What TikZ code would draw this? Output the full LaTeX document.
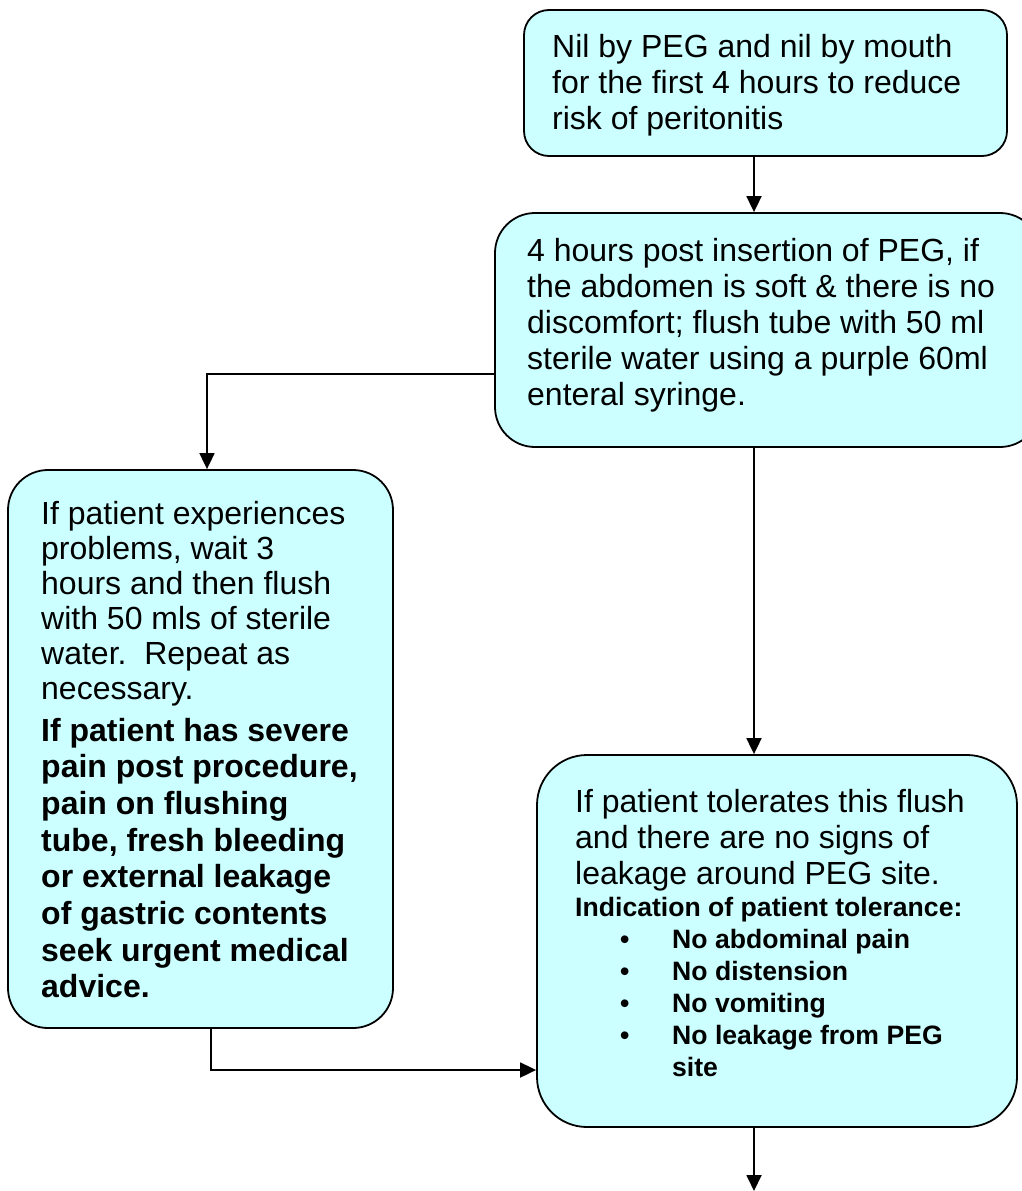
\documentclass[tikz,border=0pt]{standalone}
\usepackage{fontspec}
\setmainfont{Liberation Sans}
\usetikzlibrary{arrows.meta, calc}
\definecolor{PaleCyan}{HTML}{CCFFFF}
\def\lw{1.8pt}

\begin{document}
\begin{tikzpicture}[x=1pt, y=-1pt,
    flowbox/.style={draw=black, line width=\lw, fill=PaleCyan, rounded corners=40pt, inner sep=0pt},
    txt/.style={anchor=base west, inner sep=0pt, text width=600pt, align=flush left,
        execute at begin node={\frenchspacing\spaceskip=0pt\xspaceskip=0pt},
        font=\fontsize{32}{36}\selectfont},
    arr/.style={line width=\lw, -{Triangle[length=16pt, width=15pt]}}]

\useasboundingbox (0,0) rectangle (1022,1191);

% cajas
\node[flowbox, rounded corners=25pt, minimum width=483pt, minimum height=146pt] (boxA) at (765.5,83) {};
\node[flowbox, minimum width=545pt, minimum height=234pt] (boxB) at (767.5,330) {};
\node[flowbox, minimum width=385pt, minimum height=558pt] (boxC) at (200.5,749) {};
\node[flowbox, rounded corners=50pt, minimum width=480pt, minimum height=372pt] (boxD) at (777,941) {};

% textos
\node[txt] (txtA) at (552,57) {Nil by PEG and nil by mouth\\
    for the first 4 hours to reduce\\
    risk of peritonitis};
\node[txt] (txtB) at (527,261) {4 hours post insertion of PEG, if\\
    the abdomen is soft \& there is no\\
    discomfort; flush tube with 50 ml\\
    sterile water using a purple 60ml\\
    enteral syringe.};
\node[txt, font=\fontsize{32}{35}\selectfont] (txtC) at (41,524) {If patient experiences\\
    problems, wait 3\\
    hours and then flush\\
    with 50 mls of sterile\\
    water.\ \ Repeat as\\
    necessary.};
\node[txt, font=\fontsize{32}{36.7}\selectfont\bfseries] (warnC) at (41,741) {If patient has severe\\
    pain post procedure,\\
    pain on flushing\\
    tube, fresh bleeding\\
    or external leakage\\
    of gastric contents\\
    seek urgent medical\\
    advice.};
\node[txt] (txtD) at (575,812.7) {If patient tolerates this flush\\
    and there are no signs of\\
    leakage around PEG site.\par
    {\fontsize{26.6}{32}\selectfont\bfseries
    Indication of patient tolerance:\\
    \hspace*{45pt}\makebox[52pt][l]{•}No abdominal pain\\
    \hspace*{45pt}\makebox[52pt][l]{•}No distension\\
    \hspace*{45pt}\makebox[52pt][l]{•}No vomiting\\
    \hspace*{45pt}\makebox[52pt][l]{•}No leakage from PEG\\
    \hspace*{97pt}site\par}};

% flechas
\coordinate (spine) at (754,0);
\coordinate (exit) at (754,1191);
\draw[arr] (boxA.south -| spine) -- (boxB.north -| spine);
\draw[arr] (boxB.south -| spine) -- (boxD.north -| spine);
\draw[arr] (boxD.south -| spine) -- (exit);
\draw[arr] ([yshift=-44pt]boxB.west) -| ([xshift=6.5pt]boxC.north);
\draw[arr] ([xshift=10.5pt]boxC.south) |- ([yshift=-129pt]boxD.west);

\end{tikzpicture}
\end{document}
